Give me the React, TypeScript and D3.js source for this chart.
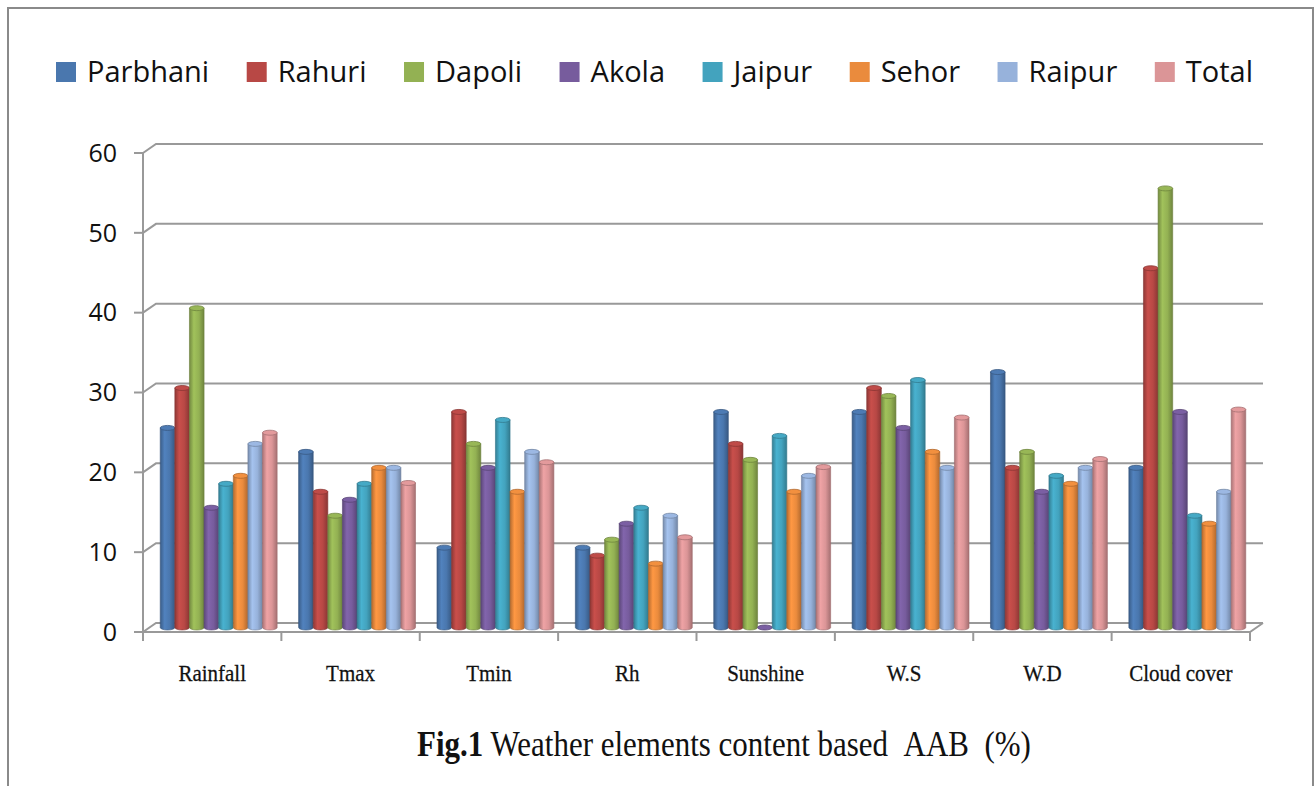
import React from 'react'
import * as d3 from 'd3'

const categories = ['Rainfall', 'Tmax', 'Tmin', 'Rh', 'Sunshine', 'W.S', 'W.D', 'Cloud cover']
const seriesNames = ['Parbhani', 'Rahuri', 'Dapoli', 'Akola', 'Jaipur', 'Sehor', 'Raipur', 'Total']
const seriesColors = ['#4a77ae', '#b84845', '#93b153', '#775c9d', '#43a3be', '#ea8b3d', '#97b2db', '#db9597']

const parbhani = [25, 22, 10, 10, 27, 27, 32, 20]
const rahuri = [30, 17, 27, 9, 23, 30, 20, 45]
const dapoli = [40, 14, 23, 11, 21, 29, 22, 55]
const akola = [15, 16, 20, 13, 0, 25, 17, 27]
const jaipur = [18, 18, 26, 15, 24, 31, 19, 14]
const sehor = [19, 20, 17, 8, 17, 22, 18, 13]
const raipur = [23, 20, 22, 14, 19, 20, 20, 17]
const total = [24.4, 18.1, 20.7, 11.3, 20.1, 26.3, 21.1, 27.3]

const yTicks = [0, 10, 20, 30, 40, 50, 60]

const seriesValues = [parbhani, rahuri, dapoli, akola, jaipur, sehor, raipur, total]

const App: React.FunctionComponent = () => {
  const svgRef = React.useRef<SVGSVGElement>(null)

  const width = 1316
  const height = 786
  // front edge of the 3D plot and depth offset of the back wall
  const plot = { left: 143, right: 1250, bottom: 632, top: 153 }
  const depth = { dx: 13, dy: -9 }
  const grid = '#999999'

  React.useEffect(() => {
    const svg = d3.select(svgRef.current)
    svg.selectAll('*').remove()

    const yFront = d3.scaleLinear().domain([0, 60]).range([plot.bottom, plot.top])
    const yBar = (v: number) => yFront(v) + depth.dy / 2
    const yBack = (v: number) => yFront(v) + depth.dy

    const xCat = d3
      .scaleBand<string>()
      .domain(categories)
      .range([plot.left, plot.right])
    const xGroup = d3
      .scaleBand<string>()
      .domain(categories)
      .range([plot.left + depth.dx / 2, plot.right + depth.dx / 2])
      .paddingInner(0.155)
      .paddingOuter(0.0775)
    const xSeries = d3
      .scaleBand<string>()
      .domain(seriesNames)
      .range([0, xGroup.bandwidth()])

    const defs = svg.append('defs')
    seriesColors.forEach((c, i) => {
      const base = d3.color(c)!
      const g = defs
        .append('linearGradient')
        .attr('id', `cyl${i}`)
        .attr('x1', 0)
        .attr('x2', 1)
        .attr('y1', 0)
        .attr('y2', 0)
      g.append('stop').attr('offset', '0%').attr('stop-color', base.darker(0.7).formatHex())
      g.append('stop').attr('offset', '30%').attr('stop-color', base.brighter(0.25).formatHex())
      g.append('stop').attr('offset', '65%').attr('stop-color', base.formatHex())
      g.append('stop').attr('offset', '100%').attr('stop-color', base.darker(0.8).formatHex())
    })

    // outer frame
    svg
      .append('rect')
      .attr('x', 8)
      .attr('y', 8)
      .attr('width', 1305)
      .attr('height', 790)
      .attr('fill', 'white')
      .attr('stroke', '#8a8a8a')
      .attr('stroke-width', 2)

    // back wall gridlines with side diagonals
    const gridG = svg.append('g').attr('stroke', grid).attr('stroke-width', 2).attr('fill', 'none')
    yTicks.forEach(t => {
      gridG
        .append('path')
        .attr(
          'd',
          `M${plot.left},${yFront(t)}L${plot.left + depth.dx},${yBack(t)}L${plot.right + depth.dx},${yBack(t)}`
        )
    })
    // floor front + right diagonal
    gridG
      .append('path')
      .attr(
        'd',
        `M${plot.left},${plot.bottom}L${plot.right},${plot.bottom}L${plot.right + depth.dx},${plot.bottom + depth.dy}`
      )

    // bars as cylinders
    const barG = svg.append('g')
    categories.forEach((cat, ci) => {
      seriesNames.forEach((name, si) => {
        const v = seriesValues[si][ci]
        const x = xGroup(cat)! + xSeries(name)!
        const w = xSeries.bandwidth()
        const y0 = yBar(0)
        const y1 = yBar(v)
        const ry = 2.5
        const base = d3.color(seriesColors[si])!
        if (v > 0) {
          barG
            .append('path')
            .attr(
              'd',
              `M${x},${y1}L${x},${y0}A${w / 2},${ry} 0 0 0 ${x + w},${y0}L${x + w},${y1}Z`
            )
            .attr('fill', `url(#cyl${si})`)
            .attr('stroke', base.darker(0.9).formatHex())
            .attr('stroke-width', 0.6)
        }
        barG
          .append('ellipse')
          .attr('cx', x + w / 2)
          .attr('cy', y1)
          .attr('rx', w / 2)
          .attr('ry', ry)
          .attr('fill', base.brighter(0.1).formatHex())
          .attr('stroke', base.darker(0.8).formatHex())
          .attr('stroke-width', 0.8)
      })
    })

    // vertical axis and ticks
    const axisG = svg.append('g').attr('stroke', grid).attr('stroke-width', 2)
    axisG
      .append('line')
      .attr('x1', plot.left)
      .attr('x2', plot.left)
      .attr('y1', plot.top)
      .attr('y2', plot.bottom + 9)
    yTicks.forEach(t => {
      axisG
        .append('line')
        .attr('x1', plot.left - 9)
        .attr('x2', plot.left)
        .attr('y1', yFront(t))
        .attr('y2', yFront(t))
    })
    d3.range(categories.length + 1).forEach(i => {
      const x = plot.left + i * xCat.step()
      axisG
        .append('line')
        .attr('x1', x)
        .attr('x2', x)
        .attr('y1', plot.bottom)
        .attr('y2', plot.bottom + 9)
    })

    svg
      .append('g')
      .selectAll('text')
      .data(yTicks)
      .join('text')
      .attr('x', 117)
      .attr('y', d => yFront(d))
      .attr('dy', '0.35em')
      .attr('text-anchor', 'end')
      .attr('font-family', 'Open Sans, sans-serif')
      .attr('font-size', 25)
      .attr('fill', '#111')
      .text(d => d)

    svg
      .append('g')
      .selectAll('text')
      .data(categories)
      .join('text')
      .attr('transform', d => `translate(${xCat(d)! + xCat.bandwidth() / 2},681) scale(1,1.12)`)
      .attr('text-anchor', 'middle')
      .attr('font-family', 'Liberation Serif, serif')
      .attr('font-size', 21)
      .attr('fill', '#111')
      .attr('stroke', '#111')
      .attr('stroke-width', 0.25)
      .text(d => d)

    // legend: measured layout, spread to span the reference width
    const legend = svg.append('g')
    const items = seriesNames.map((name, i) => {
      const g = legend.append('g')
      g.append('rect')
        .attr('width', 20)
        .attr('height', 20)
        .attr('y', 62)
        .attr('fill', seriesColors[i])
      const t = g
        .append('text')
        .attr('x', 31)
        .attr('y', 82)
        .attr('font-family', 'Open Sans, sans-serif')
        .attr('font-size', 29)
        .attr('fill', '#111')
        .text(name)
      const w = (t.node() as SVGTextElement).getComputedTextLength()
      return { g, w: 31 + w }
    })
    const span = 1253 - 56
    const gap = (span - d3.sum(items, d => d.w)) / (items.length - 1)
    let cx = 56
    items.forEach(it => {
      it.g.attr('transform', `translate(${cx},0)`)
      cx += it.w + gap
    })

    // caption
    const cap = svg
      .append('text')
      .attr('transform', 'translate(724,756) scale(1,1.15)')
      .attr('text-anchor', 'middle')
      .attr('font-family', 'Liberation Serif, serif')
      .attr('font-size', 31)
      .attr('fill', '#111')
    cap.append('tspan').attr('font-weight', 'bold').text('Fig.1')
    cap.append('tspan').text(' Weather elements content based \u00a0AAB \u00a0(%)')
  }, [])

  return (
    <svg
      ref={svgRef}
      width={width}
      height={height}
      style={{ position: 'absolute', left: 0, top: 0, background: 'white' }}
    />
  )
}

export default App
